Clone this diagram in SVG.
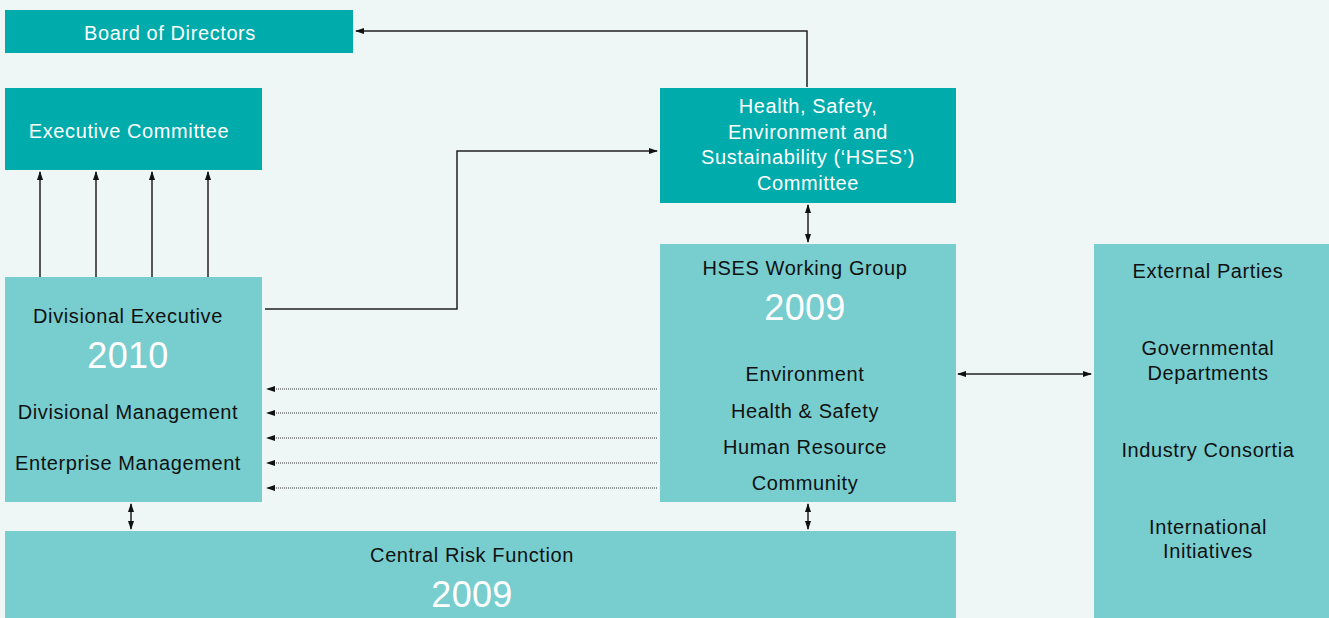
<svg xmlns="http://www.w3.org/2000/svg" width="1329" height="618" viewBox="0 0 1329 618">
<style>
.dark{fill:#00abac}
.light{fill:#78cdcf}
text{font-family:"Liberation Sans",Arial,sans-serif;text-anchor:middle;font-size:20px;letter-spacing:0.6px}
.w{fill:#ffffff}
.b{fill:#111111}
.yr{font-size:36px;fill:#ffffff;letter-spacing:0.3px}
.ln{stroke:#222;stroke-width:1.5;fill:none}
.dot{stroke:#333;stroke-width:1.2;stroke-dasharray:1 1;fill:none}
</style>
<defs>
<marker id="ahs" markerWidth="9" markerHeight="8" refX="8" refY="4" orient="auto-start-reverse" markerUnits="userSpaceOnUse">
<path d="M0,1 L9,4 L0,7 Z" fill="#111"/>
</marker>
</defs>
<rect width="1329" height="618" fill="#eef7f6"/>
<g id="board">
<rect class="dark" x="5" y="10" width="348" height="43"/>
<text class="w" x="170" y="40">Board of Directors</text>
</g>
<g id="exco">
<rect class="dark" x="5" y="88" width="257" height="82"/>
<text class="w" x="129" y="138">Executive Committee</text>
</g>
<g id="hsesc">
<rect class="dark" x="660" y="88" width="296" height="115"/>
<text class="w" x="808" y="113">Health, Safety,</text>
<text class="w" x="808" y="139">Environment and</text>
<text class="w" x="808" y="164">Sustainability (‘HSES’)</text>
<text class="w" x="808" y="190">Committee</text>
</g>
<g id="divexec">
<rect class="light" x="5" y="277" width="257" height="225"/>
<text class="b" x="128" y="323">Divisional Executive</text>
<text class="yr" x="128" y="368">2010</text>
<text class="b" x="128" y="419">Divisional Management</text>
<text class="b" x="128" y="470">Enterprise Management</text>
</g>
<g id="hseswg">
<rect class="light" x="660" y="244" width="296" height="258"/>
<text class="b" x="805" y="275">HSES Working Group</text>
<text class="yr" x="805" y="320">2009</text>
<text class="b" x="805" y="381">Environment</text>
<text class="b" x="805" y="418">Health &amp; Safety</text>
<text class="b" x="805" y="454">Human Resource</text>
<text class="b" x="805" y="490">Community</text>
</g>
<g id="external">
<rect class="light" x="1094" y="244" width="235" height="374"/>
<text class="b" x="1208" y="278">External Parties</text>
<text class="b" x="1208" y="355">Governmental</text>
<text class="b" x="1208" y="380">Departments</text>
<text class="b" x="1208" y="457">Industry Consortia</text>
<text class="b" x="1208" y="534">International</text>
<text class="b" x="1208" y="558">Initiatives</text>
</g>
<g id="crf">
<rect class="light" x="5" y="531" width="951" height="87"/>
<text class="b" x="472" y="562">Central Risk Function</text>
<text class="yr" x="472" y="607">2009</text>
</g>
<g id="connectors">
<path class="ln" d="M40,277 V172" marker-end="url(#ahs)"/>
<path class="ln" d="M96,277 V172" marker-end="url(#ahs)"/>
<path class="ln" d="M152,277 V172" marker-end="url(#ahs)"/>
<path class="ln" d="M208,277 V172" marker-end="url(#ahs)"/>
<path class="ln" d="M265,309 H457 V151 H657" marker-end="url(#ahs)"/>
<path class="ln" d="M807,87 V31 H356" marker-end="url(#ahs)"/>
<path class="ln" d="M808,205 V242" marker-start="url(#ahs)" marker-end="url(#ahs)"/>
<path class="ln" d="M958,374 H1091" marker-start="url(#ahs)" marker-end="url(#ahs)"/>
<path class="ln" d="M131,504 V529" marker-start="url(#ahs)" marker-end="url(#ahs)"/>
<path class="ln" d="M808,504 V529" marker-start="url(#ahs)" marker-end="url(#ahs)"/>
<path class="dot" d="M657,389 H267" marker-end="url(#ahs)"/>
<path class="dot" d="M657,413 H267" marker-end="url(#ahs)"/>
<path class="dot" d="M657,438 H267" marker-end="url(#ahs)"/>
<path class="dot" d="M657,463 H267" marker-end="url(#ahs)"/>
<path class="dot" d="M657,488 H267" marker-end="url(#ahs)"/>
</g>
</svg>
